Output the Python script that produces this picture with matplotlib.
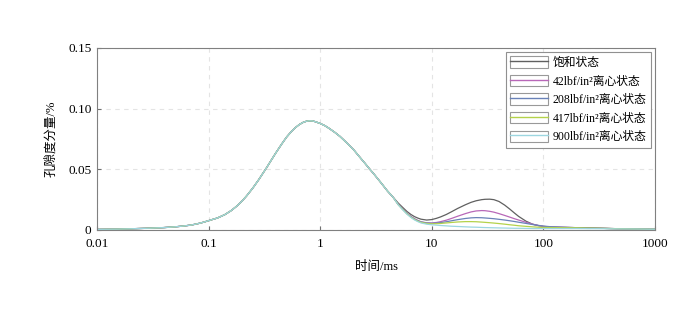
import numpy as np
import matplotlib.pyplot as plt
from matplotlib.patches import Patch
from matplotlib.lines import Line2D
from matplotlib.legend_handler import HandlerTuple

plt.rcParams['font.family'] = ['Liberation Serif', 'Noto Sans CJK SC']
plt.rcParams['axes.unicode_minus'] = False

# 前段：各状态重合的部分
t_head = [0.01, 0.015, 0.02, 0.03, 0.04, 0.05, 0.06, 0.07, 0.08, 0.09, 0.1,
          0.12, 0.14, 0.16, 0.18, 0.2, 0.22, 0.25, 0.28, 0.3, 0.33, 0.36, 0.4,
          0.45, 0.5, 0.55, 0.6, 0.65, 0.7, 0.75, 0.8, 0.85, 0.9, 1.0, 1.1, 1.2,
          1.35, 1.5, 1.7, 2.0, 2.25, 2.5, 2.8, 3.0, 3.5, 4.0, 4.5]
common = [0.0005, 0.0007, 0.001, 0.0015, 0.002, 0.0026, 0.0033, 0.0041, 0.0052,
          0.0064, 0.0077, 0.0099, 0.0127, 0.0161, 0.0199, 0.024, 0.0283, 0.0348,
          0.0412, 0.0454, 0.0512, 0.0568, 0.0635, 0.0706, 0.0766, 0.081, 0.0844,
          0.0869, 0.0886, 0.0896, 0.09, 0.0899, 0.0893, 0.0878, 0.086, 0.0838,
          0.0805, 0.0772, 0.0725, 0.066, 0.0603, 0.0553, 0.0498, 0.0466, 0.039,
          0.0322, 0.027]

# 后段：各状态分开
t_tail = [5, 5.5, 6, 6.5, 7, 7.5, 8, 9, 10, 11, 12, 13.5, 15, 17, 20, 22.5, 25,
          28, 30, 33, 36, 40, 45, 50, 55, 60, 70, 80, 90, 100, 120, 150, 200,
          250, 300, 400, 500, 700, 1000]

s_sat = [0.0222, 0.0185, 0.0152, 0.0128, 0.011, 0.0098, 0.0089, 0.0082, 0.0086,
         0.0096, 0.0108, 0.0128, 0.015, 0.0177, 0.0208, 0.0228, 0.0241, 0.025,
         0.0253, 0.0254, 0.025, 0.0235, 0.0205, 0.0172, 0.014, 0.0112, 0.0072,
         0.0048, 0.0036, 0.0029, 0.0024, 0.0022, 0.0019, 0.0017, 0.0015, 0.0012,
         0.001, 0.0008, 0.0006]
s_42 = [0.0212, 0.0172, 0.0138, 0.0112, 0.0093, 0.0079, 0.0068, 0.0059, 0.0058,
        0.0062, 0.0069, 0.0081, 0.0095, 0.0113, 0.0135, 0.0149, 0.0157, 0.016,
        0.0159, 0.0154, 0.0147, 0.0135, 0.012, 0.0106, 0.0093, 0.0082, 0.0063,
        0.0048, 0.0037, 0.003, 0.0024, 0.0022, 0.0019, 0.0017, 0.0015, 0.0012,
        0.001, 0.0008, 0.0006]
s_208 = [0.021, 0.017, 0.0135, 0.0109, 0.009, 0.0076, 0.0066, 0.0057, 0.0055,
         0.0057, 0.0061, 0.0068, 0.0076, 0.0085, 0.0095, 0.01, 0.0102, 0.0101,
         0.0099, 0.0096, 0.0093, 0.0088, 0.0082, 0.0076, 0.007, 0.0064, 0.0054,
         0.0045, 0.0038, 0.0032, 0.0026, 0.0022, 0.0019, 0.0017, 0.0015, 0.0012,
         0.001, 0.0008, 0.0006]
s_417 = [0.0209, 0.0168, 0.0133, 0.0106, 0.0087, 0.0073, 0.0063, 0.0054, 0.0051,
         0.0052, 0.0054, 0.0058, 0.0062, 0.0066, 0.0069, 0.0069, 0.0068, 0.0065,
         0.0063, 0.006, 0.0057, 0.0053, 0.0048, 0.0043, 0.0039, 0.0035, 0.003,
         0.0026, 0.0023, 0.0021, 0.002, 0.0019, 0.0018, 0.0016, 0.0015, 0.0012,
         0.001, 0.0008, 0.0006]
s_900 = [0.0208, 0.0166, 0.013, 0.0103, 0.0083, 0.0069, 0.0058, 0.0048, 0.0043,
         0.004, 0.0037, 0.0034, 0.0031, 0.0029, 0.0026, 0.0024, 0.0023, 0.0021,
         0.002, 0.0019, 0.0018, 0.0017, 0.0016, 0.0015, 0.0014, 0.0014, 0.0013,
         0.0012, 0.0012, 0.0012, 0.0012, 0.0012, 0.0012, 0.0011, 0.0011, 0.001,
         0.0009, 0.0008, 0.0006]

labels = ['饱和状态', '42lbf/in²离心状态', '208lbf/in²离心状态',
          '417lbf/in²离心状态', '900lbf/in²离心状态']
colors = ['#606060', '#b868b8', '#6a82b8', '#b4d24a', '#9cd6e0']
series = [s_sat, s_42, s_208, s_417, s_900]

fig = plt.figure(figsize=(7, 3.26), dpi=100)
ax = fig.add_axes([0.1386, 0.2945, 0.7971, 0.5583])

for s, c in zip(series, colors):
    ax.plot(t_head + t_tail, common + s, color=c, lw=0.9)

ax.set_xscale('log')
ax.set_xlim(0.01, 1000)
ax.set_ylim(0, 0.15)
ax.set_xticks([0.01, 0.1, 1, 10, 100, 1000])
ax.set_xticklabels(['0.01', '0.1', '1', '10', '100', '1000'])
ax.set_yticks([0, 0.05, 0.10, 0.15])
ax.set_yticklabels(['0', '0.05', '0.10', '0.15'])
ax.minorticks_off()
ax.tick_params(direction='in', length=3, labelsize=9.5, color='#707070')
ax.tick_params(axis='x', pad=6)
ax.tick_params(axis='y', pad=4)
ax.grid(True, ls=(0, (4, 4)), color='#e4e4e4', lw=0.8)
for sp in ax.spines.values():
    sp.set_color('#808080')
    sp.set_linewidth(0.8)

ax.set_xlabel('时间/ms', fontsize=9, labelpad=8)
ax.set_ylabel('孔隙度分量/%', fontsize=9, labelpad=8)

# 图例：灰色方框中间一条彩线
handles = [(Patch(facecolor='none', edgecolor='#999999', lw=0.8),
            Line2D([], [], color=c, lw=1.0)) for c in colors]
leg = ax.legend(handles, labels, handler_map={tuple: HandlerTuple(ndivide=1)},
                loc='upper right', bbox_to_anchor=(1.0, 1.0), borderaxespad=0.3,
                fontsize=8.5, handlelength=3.2, handleheight=1.1,
                labelspacing=0.5, handletextpad=0.4, borderpad=0.4,
                fancybox=False, framealpha=1)
leg.get_frame().set_edgecolor('#909090')
leg.get_frame().set_linewidth(0.8)

plt.savefig('out.png', dpi=100)
